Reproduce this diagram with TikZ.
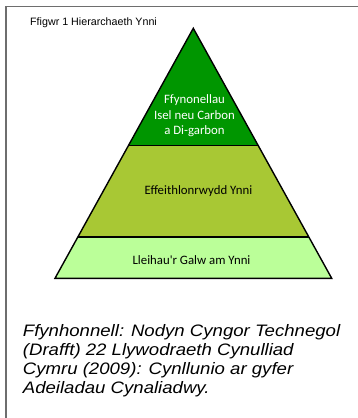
\documentclass[tikz,border=0pt]{standalone}
\usepackage{fontspec}
\usetikzlibrary{calc}
\setmainfont{Liberation Sans}
\newfontfamily\calfont{Carlito}
\newfontfamily\capfont[FakeStretch=1.12]{Liberation Sans}
\definecolor{topgreen}{RGB}{0,150,0}
\definecolor{midgreen}{RGB}{168,200,52}
\definecolor{lowgreen}{RGB}{187,255,153}
\definecolor{framegray}{RGB}{110,110,110}
\tikzset{
  tier/.style={draw=black, line width=1.4pt, line join=miter},
  tierlabel/.style={font=\calfont\fontsize{12.8}{15.5}\selectfont, align=center, inner sep=0pt},
  captionline/.style={font=\capfont\itshape\fontsize{16.6}{19}\selectfont, anchor=base west, inner sep=0pt},
}
\begin{document}
\begin{tikzpicture}[x=1pt,y=-1pt]
\useasboundingbox (0,0) rectangle (358,418);
% frame
\coordinate (fbl) at (6,418);
\coordinate (ftl) at (6,6.5);
\coordinate (ftr) at (358,6.5);
\draw[framegray, line width=1.2pt] (fbl) -- (ftl) -- (ftr);
% pyramid corners
\coordinate (apex) at (193.3,28.3);
\coordinate (bl) at (55,278.3);
\coordinate (br) at (331.7,278.3);
\coordinate (t1l) at ($(apex)!0.4680!(bl)$);
\coordinate (t1r) at ($(apex)!0.4680!(br)$);
\coordinate (t2l) at ($(apex)!0.8347!(bl)$);
\coordinate (t2r) at ($(apex)!0.8347!(br)$);
\fill[lowgreen] (t2l) -- (t2r) -- (br) -- (bl) -- cycle;
\fill[midgreen] (t1l) -- (t1r) -- (t2r) -- (t2l) -- cycle;
\fill[topgreen] (apex) -- (t1r) -- (t1l) -- cycle;
\draw[tier] (t1l) -- (t1r);
\draw[tier] (t2l) -- (t2r);
\draw[tier] (apex) -- (br) -- (bl) -- cycle;
% title
\node[font=\fontsize{10.7}{12}\selectfont, anchor=base west, inner sep=0pt] (title) at (30,25) {Ffigwr 1 Hierarchaeth Ynni};
% labels
\node[tierlabel, text=white] (ltop) at (194.5,116) {Ffynonellau\\Isel neu Carbon\\a Di-garbon};
\node[tierlabel] (lmid) at (198.5,191) {Effeithlonrwydd Ynni};
\node[tierlabel] (llow) at (191.5,260) {Lleihau'r Galw am Ynni};
% caption
\node[captionline] (c1) at (22.7,336) {Ffynhonnell: Nodyn Cyngor Technegol};
\node[captionline] (c2) at (22.7,355) {(Drafft) 22 Llywodraeth Cynulliad};
\node[captionline] (c3) at (22.7,374) {Cymru (2009): Cynllunio ar gyfer};
\node[captionline] (c4) at (22.7,393) {Adeiladau Cynaliadwy.};
\end{tikzpicture}
\end{document}
